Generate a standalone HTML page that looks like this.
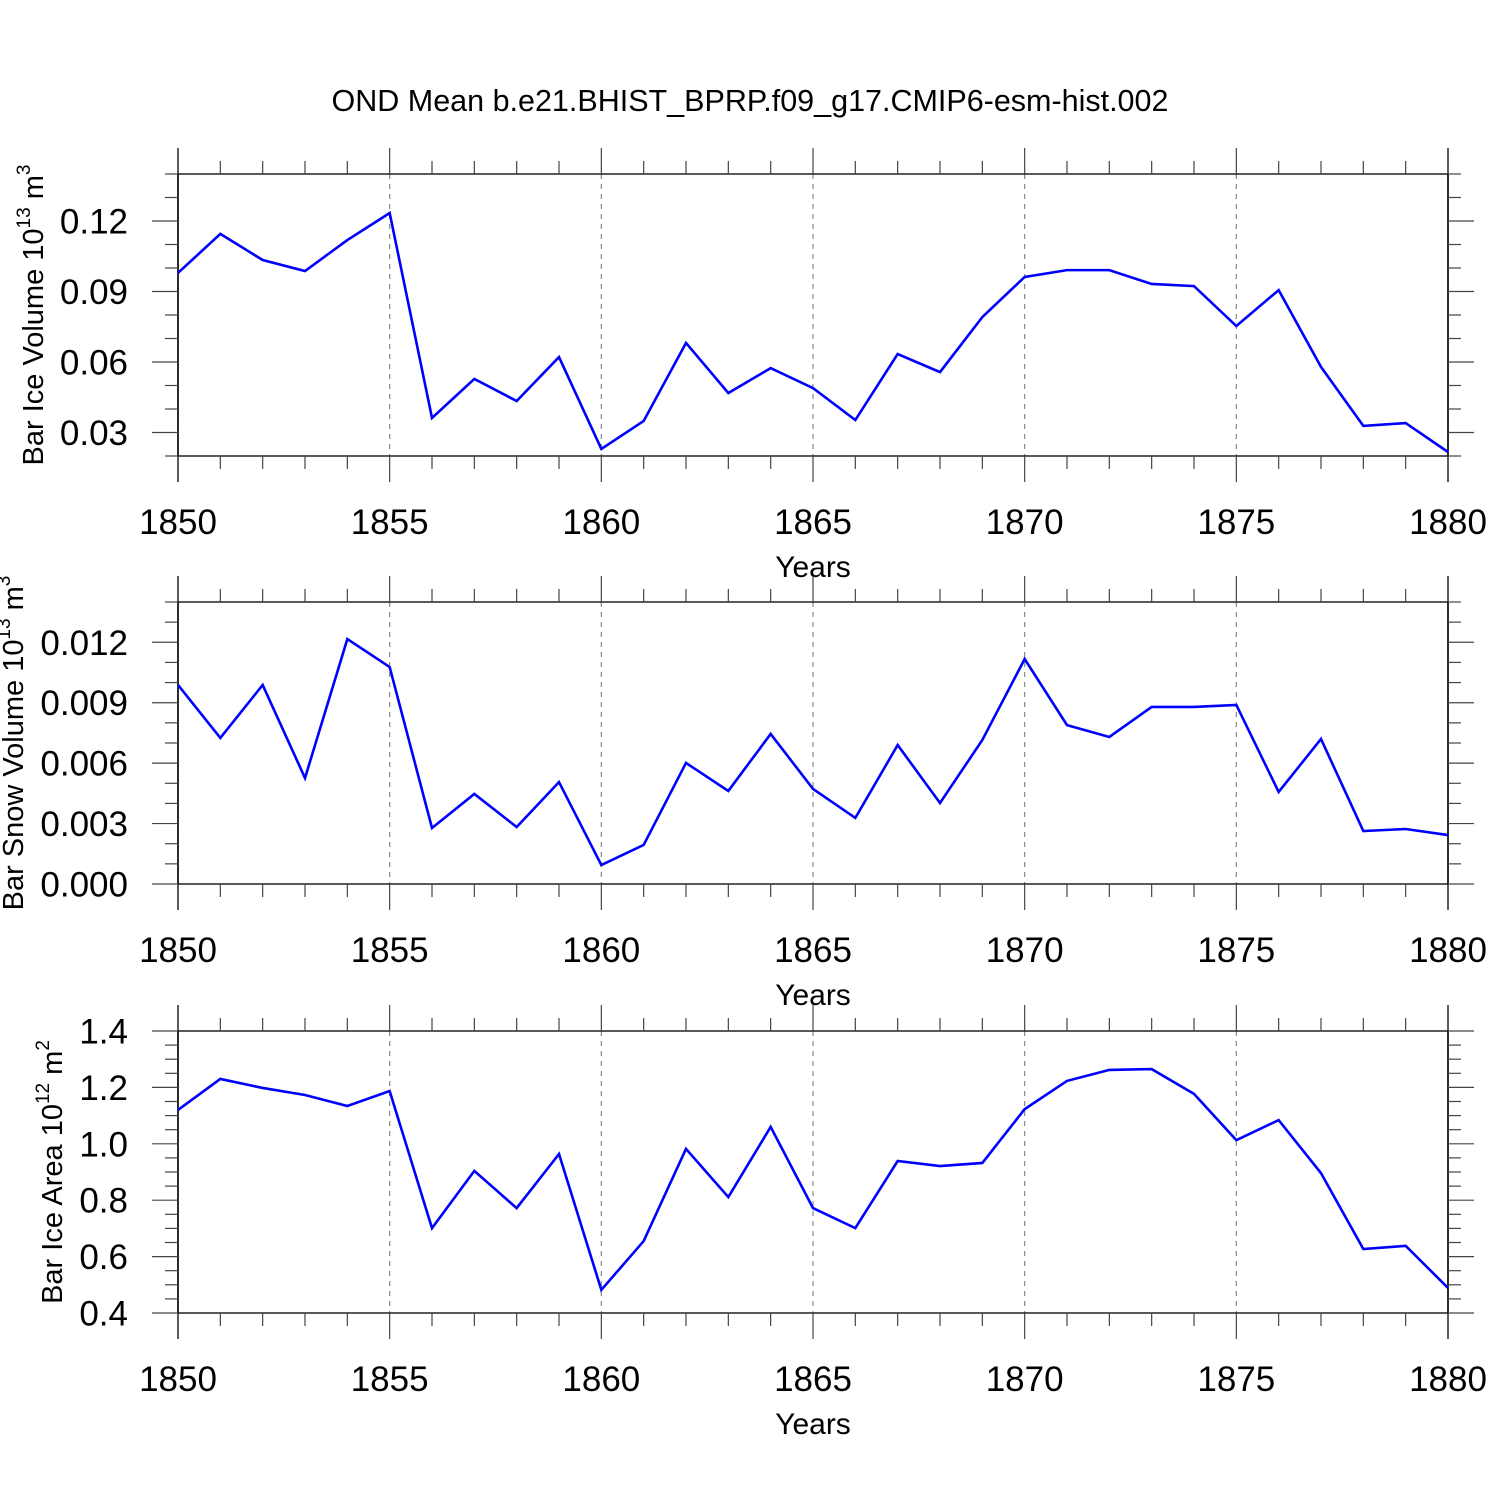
<!DOCTYPE html>
<html><head><meta charset="utf-8"><style>
body{margin:0;background:#fff}
svg{display:block;font-family:"Liberation Sans",sans-serif}
</style></head><body>
<svg id="c" width="1500" height="1500" viewBox="0 0 1500 1500">
<text x="750" y="111" text-anchor="middle" font-size="30.5">OND Mean b.e21.BHIST_BPRP.f09_g17.CMIP6-esm-hist.002</text>
</svg>
<script>
const years=[1850,1851,1852,1853,1854,1855,1856,1857,1858,1859,1860,1861,1862,1863,1864,1865,1866,1867,1868,1869,1870,1871,1872,1873,1874,1875,1876,1877,1878,1879,1880];
const iceVolume=[0.0979,0.1145,0.1034,0.0987,0.1119,0.1234,0.0362,0.0528,0.0434,0.0621,0.0230,0.0349,0.0681,0.0468,0.0574,0.0489,0.0353,0.0634,0.0557,0.0791,0.0962,0.0991,0.0991,0.0932,0.0923,0.0753,0.0906,0.0579,0.0328,0.0340,0.0217];
const snowVolume=[0.00988,0.00725,0.00988,0.00526,0.01216,0.01077,0.00278,0.00447,0.00283,0.00506,0.00094,0.00194,0.00601,0.00462,0.00745,0.00472,0.00328,0.00690,0.00402,0.00715,0.01117,0.00789,0.00730,0.00879,0.00879,0.00889,0.00457,0.00720,0.00263,0.00273,0.00243];
const iceArea=[1.120,1.230,1.198,1.173,1.134,1.187,0.701,0.904,0.772,0.964,0.482,0.655,0.982,0.811,1.060,0.772,0.701,0.939,0.921,0.932,1.123,1.223,1.262,1.265,1.177,1.013,1.084,0.896,0.627,0.638,0.489];
const xTicks=[1850,1855,1860,1865,1870,1875,1880];
const ticks1=["0.03","0.09","0.06","0.12"];
const ticks2=["0.000","0.003","0.006","0.009","0.012"];
const ticks3=["0.4","0.6","0.8","1.0","1.2","1.4"];
const svg=document.getElementById('c');
const NS='http://www.w3.org/2000/svg';
function el(t,a,p){const e=document.createElementNS(NS,t);for(const k in a)e.setAttribute(k,a[k]);(p||svg).appendChild(e);return e;}
const X0=178,X1=1448;
function xs(v){return X0+(v-1850)/30*(X1-X0);}
function panel(top,ymin,ymax,minorStep,majorLabels,vals,name,titleParts){
  const bot=top+282;
  const ys=v=>bot-(v-ymin)/(ymax-ymin)*282;
  const g=el('g',{});
  
  
  xTicks.forEach(t=>{if(t>1850&&t<1880){const l=el('line',{x1:xs(t),x2:xs(t),y1:top,y2:bot,stroke:'#888','stroke-width':1.2,'stroke-dasharray':'5,5'},g);}});
  const fr=el('rect',{x:X0,y:top,width:X1-X0,height:282,fill:'none',stroke:'#000','stroke-width':1.3},g);
  
  el('line',{x1:X0,x2:X0,y1:top-26,y2:bot+26,stroke:'#000','stroke-width':1.5},g);
  el('line',{x1:X1,x2:X1,y1:top-26,y2:bot+26,stroke:'#000','stroke-width':1.5},g);
  for(let y=1850;y<=1880;y++){const maj=y%5===0;const L=maj?26:13;
    el('line',{x1:xs(y),x2:xs(y),y1:top,y2:top-L,stroke:'#444','stroke-width':1.2},g);
    el('line',{x1:xs(y),x2:xs(y),y1:bot,y2:bot+L,stroke:'#444','stroke-width':1.2},g);}
  xTicks.forEach(t=>{const tx=el('text',{x:xs(t),y:bot+78,'text-anchor':'middle','font-size':35},g);tx.textContent=t;});
  const xt=el('text',{x:813,y:bot+121,'text-anchor':'middle','font-size':30},g);xt.textContent='Years';
  
  const n=Math.round((ymax-ymin)/minorStep);
  for(let i=0;i<=n;i++){const v=ymin+i*minorStep;const yy=ys(v);
    const maj=majorLabels.some(s=>Math.abs(parseFloat(s)-v)<minorStep/10);const L=maj?26:13;
    el('line',{x1:X0,x2:X0-L,y1:yy,y2:yy,stroke:'#444','stroke-width':1.2},g);
    el('line',{x1:X1,x2:X1+L,y1:yy,y2:yy,stroke:'#444','stroke-width':1.2},g);}
  majorLabels.forEach(s=>{const tx=el('text',{x:128,y:ys(parseFloat(s))+12.5,'text-anchor':'end','font-size':35},g);tx.textContent=s;});
  const yt=el('text',{transform:`translate(${titleParts.x},${(top+bot)/2}) rotate(-90)`,'text-anchor':'middle','font-size':29},g);
  
  const a=el('tspan',{},yt);a.textContent=titleParts.main+' 10';
  const b=el('tspan',{dy:-13,'font-size':19},yt);b.textContent=titleParts.exp;
  const c=el('tspan',{dy:13},yt);c.textContent=' m';
  const d=el('tspan',{dy:-13,'font-size':19},yt);d.textContent=titleParts.unit;
  const pts=vals.map((v,i)=>xs(years[i])+','+ys(v)).join(' ');
  const pl=el('polyline',{points:pts,fill:'none',stroke:'#0000ff','stroke-width':2.6,'stroke-linejoin':'miter'},g);
  
}
panel(174,0.02,0.14,0.01,ticks1,iceVolume,'ice-volume',{x:43,main:'Bar Ice Volume',exp:'13',unit:'3'});
panel(602,0,0.014,0.001,ticks2,snowVolume,'snow-volume',{x:23,main:'Bar Snow Volume',exp:'13',unit:'3'});
panel(1031,0.4,1.4,0.05,ticks3,iceArea,'ice-area',{x:62,main:'Bar Ice Area',exp:'12',unit:'2'});
</script>
</body></html>
